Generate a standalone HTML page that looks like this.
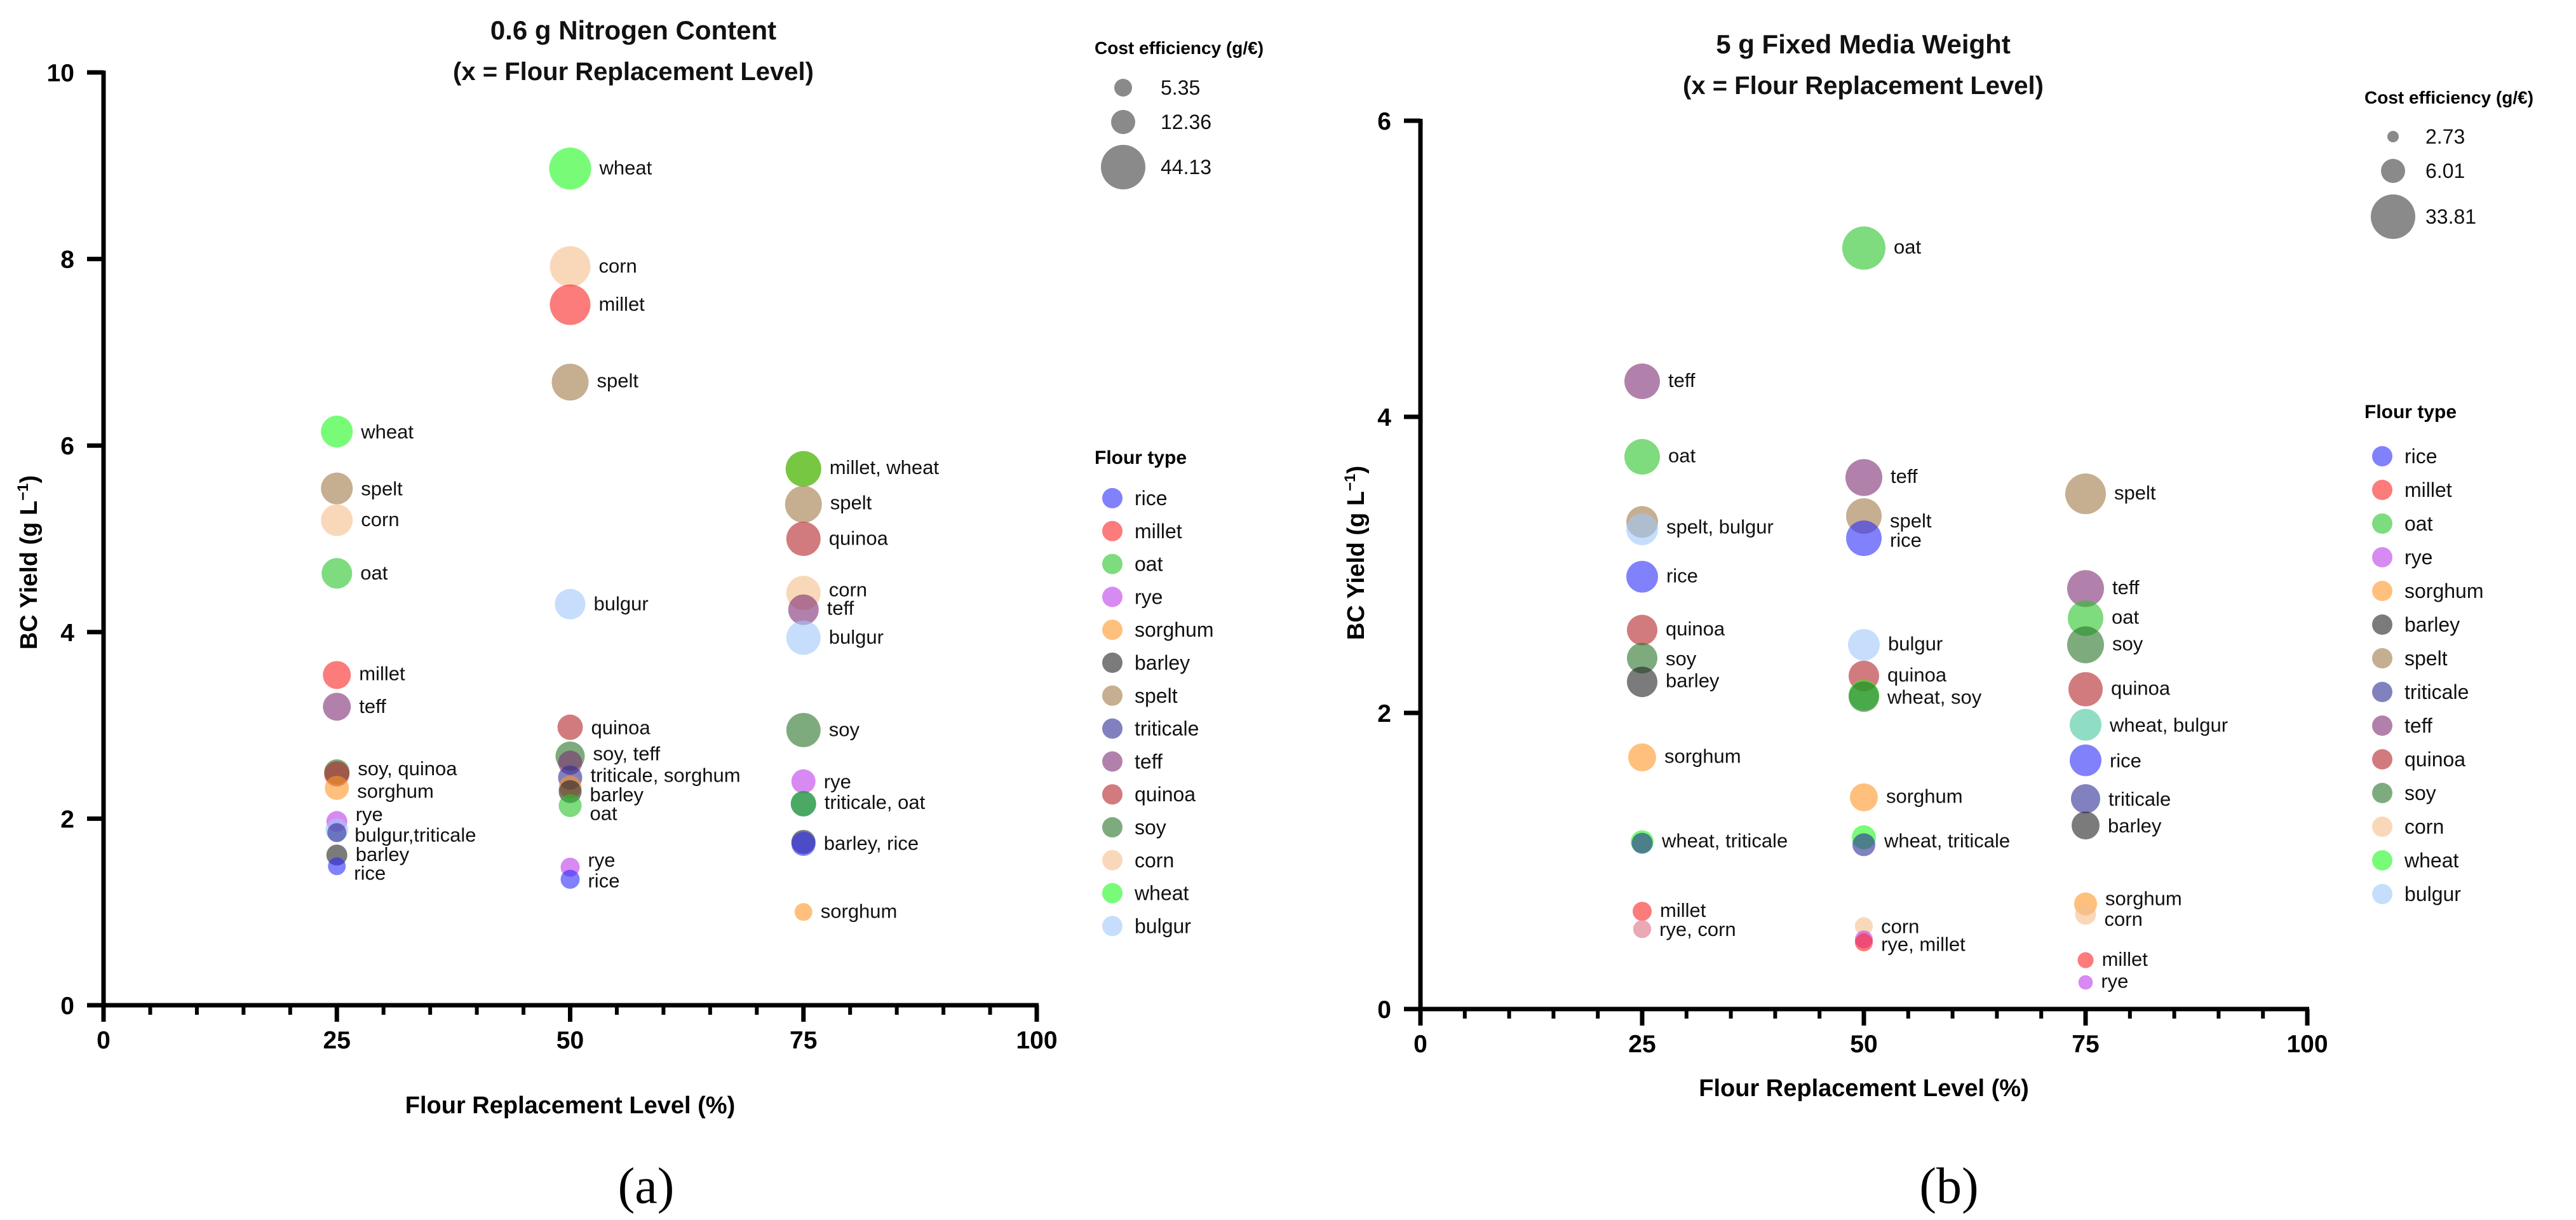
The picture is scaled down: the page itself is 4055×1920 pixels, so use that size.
<!DOCTYPE html>
<html><head><meta charset="utf-8">
<style>
html,body{margin:0;padding:0;background:#fff;}
svg{display:block;font-family:"Liberation Sans",Arial,sans-serif;}
</style></head>
<body>
<svg id="fig" width="4055" height="1920" viewBox="0 0 4055 1920" xmlns="http://www.w3.org/2000/svg">
  <rect x="0" y="0" width="4055" height="1920" fill="#fff"/>
  <g id="panelA"></g>
  <g id="panelB"></g>
</svg>
<script>
// ---------- shared ----------
const flourTypes = ["rice","millet","oat","rye","sorghum","barley","spelt","triticale","teff","quinoa","soy","corn","wheat","bulgur"];
const xTicks = [0,25,50,75,100];
const xMinorTicks = [5,10,15,20,30,35,40,45,55,60,65,70,80,85,90,95];

// ---------- panel A data ----------
const aYTicks = [0,2,4,6,8,10];
const aSizeLegend = [5.35,12.36,44.13];
const aX =    [25,25,25,25,25,25,25,25,25,25,25,25,25,25,
               50,50,50,50,50,50,50,50,50,50,50,50,50,50,
               75,75,75,75,75,75,75,75,75,75,75,75,75,75];
const aType = ["wheat","spelt","corn","oat","millet","teff","soy","quinoa","sorghum","rye","bulgur","triticale","barley","rice",
               "wheat","corn","millet","spelt","bulgur","quinoa","soy","teff","triticale","sorghum","barley","oat","rye","rice",
               "millet","wheat","spelt","quinoa","corn","teff","bulgur","soy","rye","triticale","oat","barley","rice","sorghum"];
const aYield = [6.15,5.54,5.20,4.63,3.54,3.20,2.50,2.48,2.33,1.97,1.88,1.85,1.61,1.49,
                8.97,7.92,7.51,6.68,4.30,2.98,2.67,2.60,2.44,2.34,2.29,2.14,1.48,1.35,
                5.75,5.75,5.37,5.00,4.42,4.24,3.94,2.95,2.40,2.16,2.16,1.75,1.73,1.00];
const aCost =  [24.3,24.3,24.3,22.3,18.3,18.3,14.3,14.3,12.4,8.85,11.0,6.75,8.85,5.35,
                40.2,38.1,38.1,32.2,22.3,14.3,20.3,12.4,12.4,11.0,11.0,11.0,6.75,6.75,
                30.2,30.2,32.2,28.2,28.2,22.3,28.2,28.2,12.4,14.3,14.3,12.4,12.4,5.35];
const aLabelX = [25,25,25,25,25,25,25,25,25,25,25,25,
                 50,50,50,50,50,50,50,50,50,50,50,50,
                 75,75,75,75,75,75,75,75,75,75,75];
const aLabelY = [6.15,5.54,5.21,4.64,3.56,3.21,2.54,2.30,2.05,1.83,1.62,1.42,
                 8.98,7.93,7.52,6.70,4.31,2.98,2.70,2.47,2.26,2.06,1.56,1.34,
                 5.77,5.39,5.01,4.46,4.26,3.95,2.96,2.40,2.18,1.74,1.01];
const aLabelText = ["wheat","spelt","corn","oat","millet","teff","soy, quinoa","sorghum","rye","bulgur,triticale","barley","rice",
                    "wheat","corn","millet","spelt","bulgur","quinoa","soy, teff","triticale, sorghum","barley","oat","rye","rice",
                    "millet, wheat","spelt","quinoa","corn","teff","bulgur","soy","rye","triticale, oat","barley, rice","sorghum"];

// ---------- panel B data ----------
const bYTicks = [0,2,4,6];
const bSizeLegend = [2.73,6.01,33.81];
const bX =    [25,25,25,25,25,25,25,25,25,25,25,25,25,25,
               50,50,50,50,50,50,50,50,50,50,50,50,50,50,
               75,75,75,75,75,75,75,75,75,75,75,75,75,75];
const bType = ["teff","oat","spelt","bulgur","rice","quinoa","soy","barley","sorghum","wheat","triticale","millet","rye","corn",
               "oat","teff","spelt","rice","bulgur","quinoa","wheat","soy","sorghum","wheat","triticale","corn","rye","millet",
               "spelt","teff","oat","soy","quinoa","wheat","bulgur","rice","triticale","barley","sorghum","corn","millet","rye"];
const bYield = [4.24,3.73,3.29,3.24,2.92,2.56,2.37,2.21,1.70,1.13,1.12,0.66,0.54,0.54,
                5.14,3.59,3.33,3.18,2.46,2.25,2.12,2.11,1.43,1.16,1.11,0.56,0.47,0.45,
                3.48,2.84,2.64,2.46,2.16,1.92,1.92,1.68,1.42,1.24,0.71,0.64,0.33,0.18];
const bCost =  [21.6,21.6,16.4,16.4,16.4,14.7,14.7,14.7,11.2,5.7,5.2,4.7,4.4,4.4,
                32.1,23.4,21.6,21.6,16.4,14.7,14.7,14.7,11.2,6.0,5.7,4.4,4.4,4.4,
                28.6,23.4,21.6,23.4,19.9,16.4,16.4,16.4,13.0,11.2,5.7,5.2,3.9,3.5];
const bLabelX = [25,25,25,25,25,25,25,25,25,25,25,
                 50,50,50,50,50,50,50,50,50,50,50,
                 75,75,75,75,75,75,75,75,75,75,75,75,75];
const bLabelY = [4.25,3.74,3.26,2.93,2.57,2.37,2.22,1.71,1.14,0.67,0.54,
                 5.15,3.60,3.30,3.17,2.47,2.26,2.11,1.44,1.14,0.56,0.44,
                 3.49,2.85,2.65,2.47,2.17,1.92,1.68,1.42,1.24,0.75,0.61,0.34,0.19];
const bLabelText = ["teff","oat","spelt, bulgur","rice","quinoa","soy","barley","sorghum","wheat, triticale","millet","rye, corn",
                    "oat","teff","spelt","rice","bulgur","quinoa","wheat, soy","sorghum","wheat, triticale","corn","rye, millet",
                    "spelt","teff","oat","soy","quinoa","wheat, bulgur","rice","triticale","barley","sorghum","corn","millet","rye"];

// ---------- style ----------
const colorMap = {
  rice:"rgba(45,45,250,0.6)", millet:"rgba(250,35,35,0.6)", oat:"rgba(40,195,40,0.6)", rye:"rgba(190,60,235,0.6)",
  sorghum:"rgba(255,150,40,0.6)", barley:"rgba(35,35,35,0.6)", spelt:"rgba(160,120,70,0.6)", triticale:"rgba(45,45,150,0.6)",
  teff:"rgba(125,45,115,0.6)", quinoa:"rgba(180,35,40,0.6)", soy:"rgba(40,115,40,0.6)", corn:"rgba(245,190,140,0.6)",
  wheat:"rgba(30,250,30,0.6)", bulgur:"rgba(160,200,250,0.6)"
};
const NS = "http://www.w3.org/2000/svg";
function mk(tag, attrs, parent){
  const e = document.createElementNS(NS, tag);
  for (const k in attrs) e.setAttribute(k, attrs[k]);
  parent.appendChild(e); return e;
}
function radiusFn(legendVals, legendR){
  return function(c){
    if (c <= legendVals[1]) return legendR[0] + (c - legendVals[0]) * (legendR[1]-legendR[0])/(legendVals[1]-legendVals[0]);
    return legendR[1] + (c - legendVals[1]) * (legendR[2]-legendR[1])/(legendVals[2]-legendVals[1]);
  };
}

function drawPanel(cfg){
  const g = document.getElementById(cfg.id);
  const xs = v => cfg.x0 + (v/100)*(cfg.x1-cfg.x0);
  const ys = v => cfg.y0 - (v/cfg.yMax)*(cfg.y0-cfg.y1);
  const rad = radiusFn(cfg.sizeLegend, cfg.legendR);

  const t1 = mk("text",{x:cfg.titleX,y:cfg.titleY,"text-anchor":"middle","font-size":42,"font-weight":"bold",fill:"#111"},g);
  t1.textContent = cfg.title;
  
  
  const t2 = mk("text",{x:cfg.titleX,y:cfg.titleY+64,"text-anchor":"middle","font-size":40,"font-weight":"bold",fill:"#111"},g);
  t2.textContent = "(x = Flour Replacement Level)";
  
  

  const axes = mk("g",{},g);
  
  
  mk("line",{x1:cfg.x0,y1:cfg.y0,x2:cfg.x0,y2:cfg.y1-3,stroke:"#000","stroke-width":7},axes);
  mk("line",{x1:cfg.x0-3,y1:cfg.y0,x2:cfg.x1+3,y2:cfg.y0,stroke:"#000","stroke-width":7},axes);
  cfg.yTicks.forEach(v=>{
    mk("line",{x1:cfg.x0-26,y1:ys(v),x2:cfg.x0,y2:ys(v),stroke:"#000","stroke-width":7},axes);
    const tl = mk("text",{x:cfg.x0-46,y:ys(v)+14,"text-anchor":"end","font-size":39,"font-weight":"bold"},axes);
    tl.textContent = v;
    
    
  });
  xTicks.forEach(v=>{
    mk("line",{x1:xs(v),y1:cfg.y0,x2:xs(v),y2:cfg.y0+26,stroke:"#000","stroke-width":7},axes);
    const tl = mk("text",{x:xs(v),y:cfg.y0+68,"text-anchor":"middle","font-size":39,"font-weight":"bold"},axes);
    tl.textContent = v;
    
    
  });
  xMinorTicks.forEach(v=>{
    mk("line",{x1:xs(v),y1:cfg.y0,x2:xs(v),y2:cfg.y0+15,stroke:"#000","stroke-width":6},axes);
  });
  const xt = mk("text",{x:(cfg.x0+cfg.x1)/2,y:cfg.xTitleY,"text-anchor":"middle","font-size":38,"font-weight":"bold"},axes);
  xt.textContent = "Flour Replacement Level (%)";
  
  
  const yt = mk("text",{x:0,y:0,"text-anchor":"middle","font-size":38,"font-weight":"bold",transform:`translate(${cfg.yTitleX},${cfg.yTitleY}) rotate(-90)`},axes);
  yt.innerHTML = 'BC Yield (g L<tspan dy="-14" font-size="24">−1</tspan><tspan dy="14">)</tspan>';
  
  

  const marks = mk("g",{},g);
  
  
  for (let i=0;i<cfg.xv.length;i++){
    const c = mk("circle",{cx:xs(cfg.xv[i]),cy:ys(cfg.yv[i]),r:rad(cfg.cv[i]),fill:colorMap[cfg.tv[i]]},marks);
    
    
  }
  const labs = mk("g",{},g);
  
  
  for (let i=0;i<cfg.lx.length;i++){
    // offset label by radius of nearest bubble in same column
    let best = -1, bd = 1e9;
    for (let j=0;j<cfg.xv.length;j++){
      if (cfg.xv[j] !== cfg.lx[i]) continue;
      const d = Math.abs(cfg.yv[j]-cfg.ly[i]);
      if (d < bd){ bd = d; best = j; }
    }
    const r = best >= 0 ? rad(cfg.cv[best]) : 15;
    const t = mk("text",{x:xs(cfg.lx[i])+r+13,y:ys(cfg.ly[i])+11,"font-size":31,fill:"#111"},labs);
    t.textContent = cfg.lt[i];
    
    
  }

  const sl = mk("g",{},g);
  
  
  const st = mk("text",{x:cfg.legX,y:cfg.sizeTitleY,"font-size":28,"font-weight":"bold"},sl);
  st.textContent = "Cost efficiency (g/€)";
  
  
  cfg.sizeLegend.forEach((v,k)=>{
    mk("circle",{cx:cfg.legX+45,cy:cfg.sizeY[k],r:cfg.legendR[k],fill:"#8a8a8a"},sl);
    const lt = mk("text",{x:cfg.sizeLabelX,y:cfg.sizeY[k]+11,"font-size":32,fill:"#111"},sl);
    lt.textContent = v.toFixed(2);
    
    
  });

  const cl = mk("g",{},g);
  
  
  const ct = mk("text",{x:cfg.legX,y:cfg.colTitleY,"font-size":30,"font-weight":"bold"},cl);
  ct.textContent = "Flour type";
  
  
  flourTypes.forEach((f,k)=>{
    const cy = cfg.colY0 + k*cfg.colStep;
    const e = mk("g",{},cl);
    
    
    mk("circle",{cx:cfg.legX+28,cy:cy,r:16,fill:colorMap[f]},e);
    const tx = mk("text",{x:cfg.legX+63,y:cy+11,"font-size":32,fill:"#111"},e);
    tx.textContent = f;
  });

  const pl = mk("text",{x:cfg.panelX,y:1893,"text-anchor":"middle","font-size":80,"font-family":"Liberation Serif, serif"},g);
  pl.textContent = cfg.panelLabel;
  
  
}

drawPanel({id:"panelA", title:"0.6 g Nitrogen Content", titleX:997, titleY:62,
  x0:163, x1:1632, y0:1582, y1:114, yMax:10, yTicks:aYTicks,
  xTitleY:1752, yTitleX:58, yTitleY:885,
  xv:aX, yv:aYield, cv:aCost, tv:aType, lx:aLabelX, ly:aLabelY, lt:aLabelText,
  sizeLegend:aSizeLegend, legendR:[14,19,35],
  legX:1723, sizeTitleY:85, sizeY:[138,192,263], sizeLabelX:1827,
  colTitleY:730, colY0:784, colStep:51.8, panelX:1017, panelLabel:"(a)"});

drawPanel({id:"panelB", title:"5 g Fixed Media Weight", titleX:2933, titleY:84,
  x0:2236, x1:3632, y0:1588, y1:190, yMax:6, yTicks:bYTicks,
  xTitleY:1725, yTitleX:2147, yTitleY:870,
  xv:bX, yv:bYield, cv:bCost, tv:bType, lx:bLabelX, ly:bLabelY, lt:bLabelText,
  sizeLegend:bSizeLegend, legendR:[9,19,35],
  legX:3722, sizeTitleY:163, sizeY:[215,269,341], sizeLabelX:3818,
  colTitleY:658, colY0:718, colStep:53, panelX:3068, panelLabel:"(b)"});
</script>
</body></html>
